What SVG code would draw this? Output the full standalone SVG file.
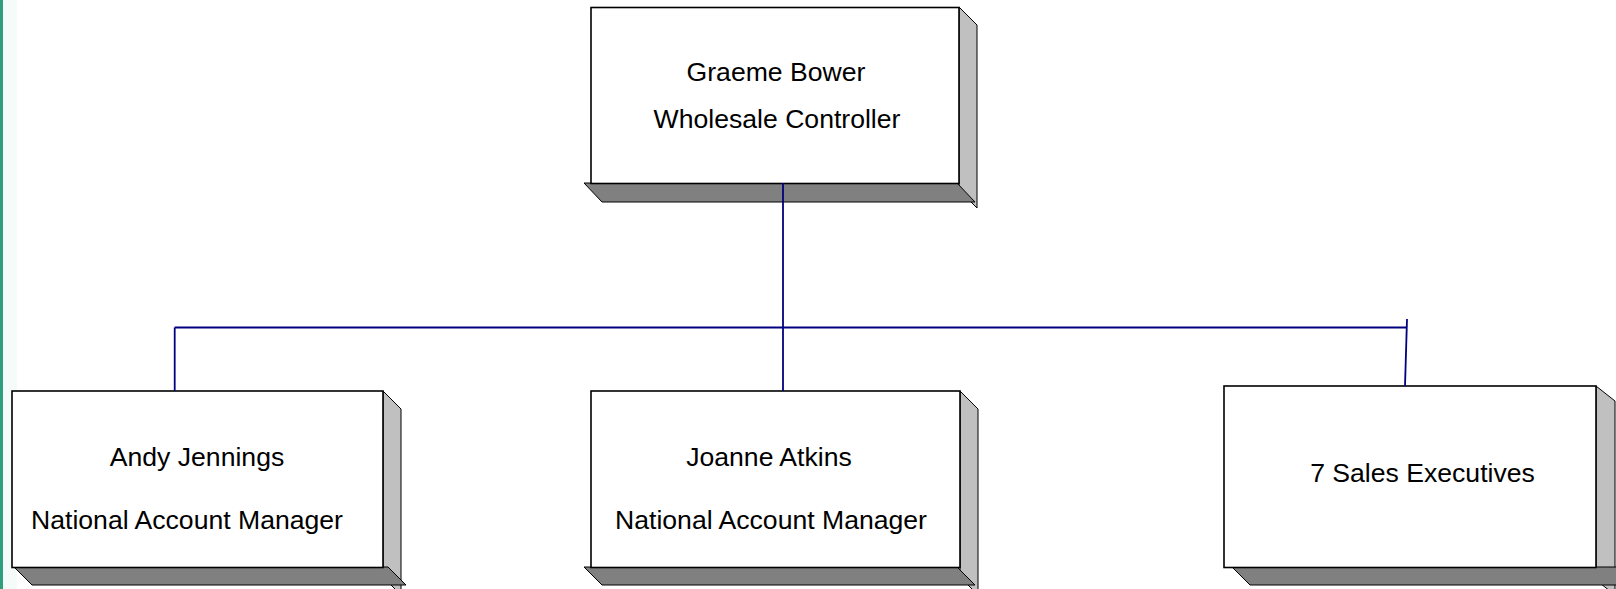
<svg xmlns="http://www.w3.org/2000/svg" width="1616" height="589" viewBox="0 0 1616 589">
<style>
.front{fill:#ffffff;stroke:#000000;stroke-width:1.6}
.side{fill:#c0c0c0;stroke:#000000;stroke-width:1}
.bottom{fill:#808080;stroke:#000000;stroke-width:1}
.lbl{font-family:"Liberation Sans",Arial,sans-serif;font-size:26.6px;fill:#000000;text-anchor:middle}
.conn{stroke:#000080;stroke-width:1.8;fill:none}
</style>
<rect x="0" y="0" width="1616" height="589" fill="#ffffff"/>
<rect x="0" y="0" width="3" height="589" fill="#2e9e7c"/>
<rect x="3" y="0" width="14" height="589" fill="#f4fbf8"/>

<g id="node-graeme">
<polygon class="side" points="959,7 977,25 977,208 959,190"/>
<polygon class="bottom" points="584,183 602,202 975,202 957,183"/>
<rect class="front" x="591" y="7.5" width="368" height="176"/>
<text class="lbl" x="776" y="81">Graeme Bower</text>
<text class="lbl" x="777" y="128">Wholesale Controller</text>
</g>

<g id="node-andy">
<polygon class="side" points="383,391 401,409 401,595 383,577"/>
<polygon class="bottom" points="14,567 32,585 406,585 388,567"/>
<rect class="front" x="12" y="391" width="371" height="176.5"/>
<text class="lbl" x="197" y="465.5">Andy Jennings</text>
<text class="lbl" x="187" y="529">National Account Manager</text>
</g>

<g id="node-joanne">
<polygon class="side" points="960,391 978,409 978,595 960,577"/>
<polygon class="bottom" points="584,567 602,585 975,585 957,567"/>
<rect class="front" x="591" y="391" width="369" height="176.5"/>
<text class="lbl" x="769" y="465.5">Joanne Atkins</text>
<text class="lbl" x="771" y="529">National Account Manager</text>
</g>

<g id="node-sales">
<polygon class="side" points="1596,386 1615,401 1615,595 1596,580"/>
<polygon class="bottom" points="1232,567 1250,585 1640,585 1622,567"/>
<rect class="front" x="1224" y="386" width="372" height="181.5"/>
<text class="lbl" x="1422.5" y="481.5">7 Sales Executives</text>
</g>

<g id="connectors">
<line class="conn" x1="783" y1="183" x2="783" y2="391"/>
<line class="conn" x1="174.7" y1="327.5" x2="1407" y2="327.5"/>
<line class="conn" x1="174.7" y1="327.5" x2="174.7" y2="391"/>
<line class="conn" x1="1407" y1="319" x2="1405" y2="386"/>
</g>
</svg>
